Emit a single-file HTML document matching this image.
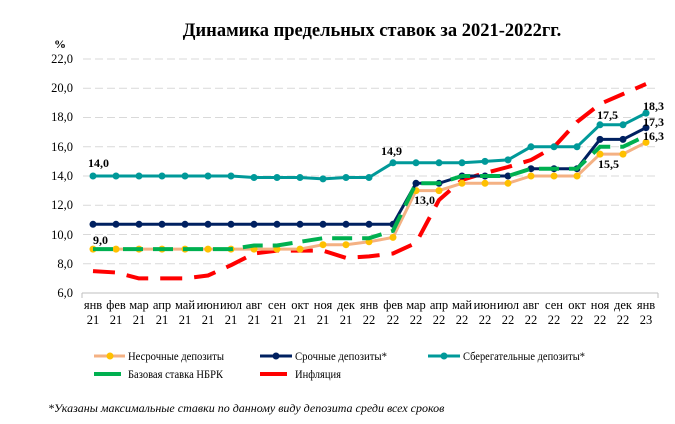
<!DOCTYPE html>
<html><head><meta charset="utf-8"><style>
body{margin:0;background:#fff;}
svg{display:block;font-family:"Liberation Serif",serif;}
</style></head><body>
<svg width="675" height="424" viewBox="0 0 675 424" xmlns="http://www.w3.org/2000/svg" font-family="Liberation Serif, serif">
<rect width="675" height="424" fill="#fff"/>
<text x="372" y="36" font-size="18.5" font-weight="bold" text-anchor="middle">Динамика предельных ставок за 2021-2022гг.</text>
<text x="60" y="48" font-size="12" font-weight="bold" text-anchor="middle">%</text>
<g stroke="#d9d9d9" stroke-width="1" stroke-dasharray="8,4">
<line x1="83" x2="658" y1="59" y2="59"/><line x1="83" x2="658" y1="88.3" y2="88.3"/><line x1="83" x2="658" y1="117.5" y2="117.5"/><line x1="83" x2="658" y1="146.8" y2="146.8"/><line x1="83" x2="658" y1="176" y2="176"/><line x1="83" x2="658" y1="205.3" y2="205.3"/><line x1="83" x2="658" y1="234.5" y2="234.5"/><line x1="83" x2="658" y1="263.8" y2="263.8"/>
</g>
<line x1="82" x2="658" y1="293" y2="293" stroke="#bfbfbf"/>
<g stroke="#bfbfbf"><line x1="82" x2="82" y1="293" y2="298"/><line x1="658" x2="658" y1="293" y2="298"/></g>
<g font-size="12.5" text-anchor="end">
<text x="73" y="63">22,0</text><text x="73" y="92">20,0</text><text x="73" y="121">18,0</text><text x="73" y="151">16,0</text><text x="73" y="180">14,0</text><text x="73" y="209">12,0</text><text x="73" y="239">10,0</text><text x="73" y="268">8,0</text><text x="73" y="297">6,0</text>
</g>
<g font-size="12.5" text-anchor="middle">
<text y="309"><tspan x="93">янв</tspan><tspan x="116">фев</tspan><tspan x="139">мар</tspan><tspan x="162">апр</tspan><tspan x="185">май</tspan><tspan x="208">июн</tspan><tspan x="231">июл</tspan><tspan x="254">авг</tspan><tspan x="277">сен</tspan><tspan x="300">окт</tspan><tspan x="323">ноя</tspan><tspan x="346">дек</tspan><tspan x="369">янв</tspan><tspan x="393">фев</tspan><tspan x="416">мар</tspan><tspan x="439">апр</tspan><tspan x="462">май</tspan><tspan x="485">июн</tspan><tspan x="508">июл</tspan><tspan x="531">авг</tspan><tspan x="554">сен</tspan><tspan x="577">окт</tspan><tspan x="600">ноя</tspan><tspan x="623">дек</tspan><tspan x="646">янв</tspan></text>
<text y="324"><tspan x="93">21</tspan><tspan x="116">21</tspan><tspan x="139">21</tspan><tspan x="162">21</tspan><tspan x="185">21</tspan><tspan x="208">21</tspan><tspan x="231">21</tspan><tspan x="254">21</tspan><tspan x="277">21</tspan><tspan x="300">21</tspan><tspan x="323">21</tspan><tspan x="346">21</tspan><tspan x="369">22</tspan><tspan x="393">22</tspan><tspan x="416">22</tspan><tspan x="439">22</tspan><tspan x="462">22</tspan><tspan x="485">22</tspan><tspan x="508">22</tspan><tspan x="531">22</tspan><tspan x="554">22</tspan><tspan x="577">22</tspan><tspan x="600">22</tspan><tspan x="623">22</tspan><tspan x="646">23</tspan></text>
</g>
<polyline fill="none" stroke="#ff0000" stroke-width="4" stroke-dasharray="22,12" stroke-linejoin="round" points="93,271.1 116,272.5 139,278.4 162,278.4 185,278.4 208,275.5 231,265.2 254,253.5 277,250.6 300,250.6 323,250.6 346,257.9 369,256.4 393,253.5 416,243 439,200 462,180 485,173 508,167 531,160 554,147 577,122 600,104 623,94 646,84"/>
<polyline fill="none" stroke="#f4b183" stroke-width="3" points="93,249.1 116,249.1 139,249.1 162,249.1 185,249.1 208,249.1 231,249.1 254,249.1 277,249.1 300,249.1 323,244.7 346,244.7 369,241.8 393,237.4 416,190.6 439,190.6 462,183.3 485,183.3 508,183.3 531,176 554,176 577,176 600,154.1 623,154.1 646,142.4"/>
<g fill="#ffc000"><circle cx="93" cy="249.1" r="3.5"/><circle cx="116" cy="249.1" r="3.5"/><circle cx="139" cy="249.1" r="3.5"/><circle cx="162" cy="249.1" r="3.5"/><circle cx="185" cy="249.1" r="3.5"/><circle cx="208" cy="249.1" r="3.5"/><circle cx="231" cy="249.1" r="3.5"/><circle cx="254" cy="249.1" r="3.5"/><circle cx="277" cy="249.1" r="3.5"/><circle cx="300" cy="249.1" r="3.5"/><circle cx="323" cy="244.7" r="3.5"/><circle cx="346" cy="244.7" r="3.5"/><circle cx="369" cy="241.8" r="3.5"/><circle cx="393" cy="237.4" r="3.5"/><circle cx="416" cy="190.6" r="3.5"/><circle cx="439" cy="190.6" r="3.5"/><circle cx="462" cy="183.3" r="3.5"/><circle cx="485" cy="183.3" r="3.5"/><circle cx="508" cy="183.3" r="3.5"/><circle cx="531" cy="176" r="3.5"/><circle cx="554" cy="176" r="3.5"/><circle cx="577" cy="176" r="3.5"/><circle cx="600" cy="154.1" r="3.5"/><circle cx="623" cy="154.1" r="3.5"/><circle cx="646" cy="142.4" r="3.5"/></g>
<polyline fill="none" stroke="#002060" stroke-width="3" points="93,224.3 116,224.3 139,224.3 162,224.3 185,224.3 208,224.3 231,224.3 254,224.3 277,224.3 300,224.3 323,224.3 346,224.3 369,224.3 393,224.3 416,183.3 439,183.3 462,176 485,176 508,176 531,168.7 554,168.7 577,168.7 600,139.4 623,139.4 646,127.7"/>
<g fill="#002060"><circle cx="93" cy="224.3" r="3.5"/><circle cx="116" cy="224.3" r="3.5"/><circle cx="139" cy="224.3" r="3.5"/><circle cx="162" cy="224.3" r="3.5"/><circle cx="185" cy="224.3" r="3.5"/><circle cx="208" cy="224.3" r="3.5"/><circle cx="231" cy="224.3" r="3.5"/><circle cx="254" cy="224.3" r="3.5"/><circle cx="277" cy="224.3" r="3.5"/><circle cx="300" cy="224.3" r="3.5"/><circle cx="323" cy="224.3" r="3.5"/><circle cx="346" cy="224.3" r="3.5"/><circle cx="369" cy="224.3" r="3.5"/><circle cx="393" cy="224.3" r="3.5"/><circle cx="416" cy="183.3" r="3.5"/><circle cx="439" cy="183.3" r="3.5"/><circle cx="462" cy="176" r="3.5"/><circle cx="485" cy="176" r="3.5"/><circle cx="508" cy="176" r="3.5"/><circle cx="531" cy="168.7" r="3.5"/><circle cx="554" cy="168.7" r="3.5"/><circle cx="577" cy="168.7" r="3.5"/><circle cx="600" cy="139.4" r="3.5"/><circle cx="623" cy="139.4" r="3.5"/><circle cx="646" cy="127.7" r="3.5"/></g>
<polyline fill="none" stroke="#00b050" stroke-width="4" stroke-dasharray="20,10" points="93,249.1 116,249.1 139,249.1 162,249.1 185,249.1 208,249.1 231,249.1 254,245.5 277,245.5 300,241.8 323,238.2 346,238.2 369,238.2 393,230.8 416,183.3 439,183.3 462,176 485,176 508,176 531,168.7 554,168.7 577,168.7 600,146.8 623,146.8 646,135.8"/>
<polyline fill="none" stroke="#009999" stroke-width="3" points="93,176 116,176 139,176 162,176 185,176 208,176 231,176 254,177.5 277,177.5 300,177.5 323,178.9 346,177.5 369,177.5 393,162.8 416,162.8 439,162.8 462,162.8 485,161.4 508,159.9 531,146.8 554,146.8 577,146.8 600,124.8 623,124.8 646,113.1"/>
<g fill="#009999"><circle cx="93" cy="176" r="3.5"/><circle cx="116" cy="176" r="3.5"/><circle cx="139" cy="176" r="3.5"/><circle cx="162" cy="176" r="3.5"/><circle cx="185" cy="176" r="3.5"/><circle cx="208" cy="176" r="3.5"/><circle cx="231" cy="176" r="3.5"/><circle cx="254" cy="177.5" r="3.5"/><circle cx="277" cy="177.5" r="3.5"/><circle cx="300" cy="177.5" r="3.5"/><circle cx="323" cy="178.9" r="3.5"/><circle cx="346" cy="177.5" r="3.5"/><circle cx="369" cy="177.5" r="3.5"/><circle cx="393" cy="162.8" r="3.5"/><circle cx="416" cy="162.8" r="3.5"/><circle cx="439" cy="162.8" r="3.5"/><circle cx="462" cy="162.8" r="3.5"/><circle cx="485" cy="161.4" r="3.5"/><circle cx="508" cy="159.9" r="3.5"/><circle cx="531" cy="146.8" r="3.5"/><circle cx="554" cy="146.8" r="3.5"/><circle cx="577" cy="146.8" r="3.5"/><circle cx="600" cy="124.8" r="3.5"/><circle cx="623" cy="124.8" r="3.5"/><circle cx="646" cy="113.1" r="3.5"/></g>
<g font-size="12" font-weight="bold">
<text x="88" y="167">14,0</text>
<text x="93" y="244">9,0</text>
<text x="381" y="155">14,9</text>
<text x="414" y="204">13,0</text>
<text x="597" y="119">17,5</text>
<text x="598" y="168">15,5</text>
<text x="643" y="110">18,3</text>
<text x="643" y="126">17,3</text>
<text x="643" y="140">16,3</text>
</g>
<g font-size="12">
<line x1="94" x2="125" y1="356" y2="356" stroke="#f4b183" stroke-width="3"/><circle cx="110" cy="356" r="3.5" fill="#ffc000"/>
<text x="128" y="360" textLength="96" lengthAdjust="spacingAndGlyphs">Несрочные депозиты</text>
<line x1="260" x2="292" y1="356" y2="356" stroke="#002060" stroke-width="3"/><circle cx="276" cy="356" r="3.5" fill="#002060"/>
<text x="295" y="360" textLength="92" lengthAdjust="spacingAndGlyphs">Срочные депозиты*</text>
<line x1="428" x2="460" y1="356" y2="356" stroke="#009999" stroke-width="3"/><circle cx="444" cy="356" r="3.5" fill="#009999"/>
<text x="463" y="360" textLength="122" lengthAdjust="spacingAndGlyphs">Сберегательные депозиты*</text>
<line x1="94" x2="121" y1="374" y2="374" stroke="#00b050" stroke-width="4"/>
<text x="128" y="378" textLength="95" lengthAdjust="spacingAndGlyphs">Базовая ставка НБРК</text>
<line x1="260" x2="287" y1="374" y2="374" stroke="#ff0000" stroke-width="4"/>
<text x="295" y="378" textLength="46" lengthAdjust="spacingAndGlyphs">Инфляция</text>
</g>
<text x="48" y="412" font-size="12" font-style="italic">*Указаны максимальные ставки по данному виду депозита среди всех сроков</text>
</svg>
</body></html>
